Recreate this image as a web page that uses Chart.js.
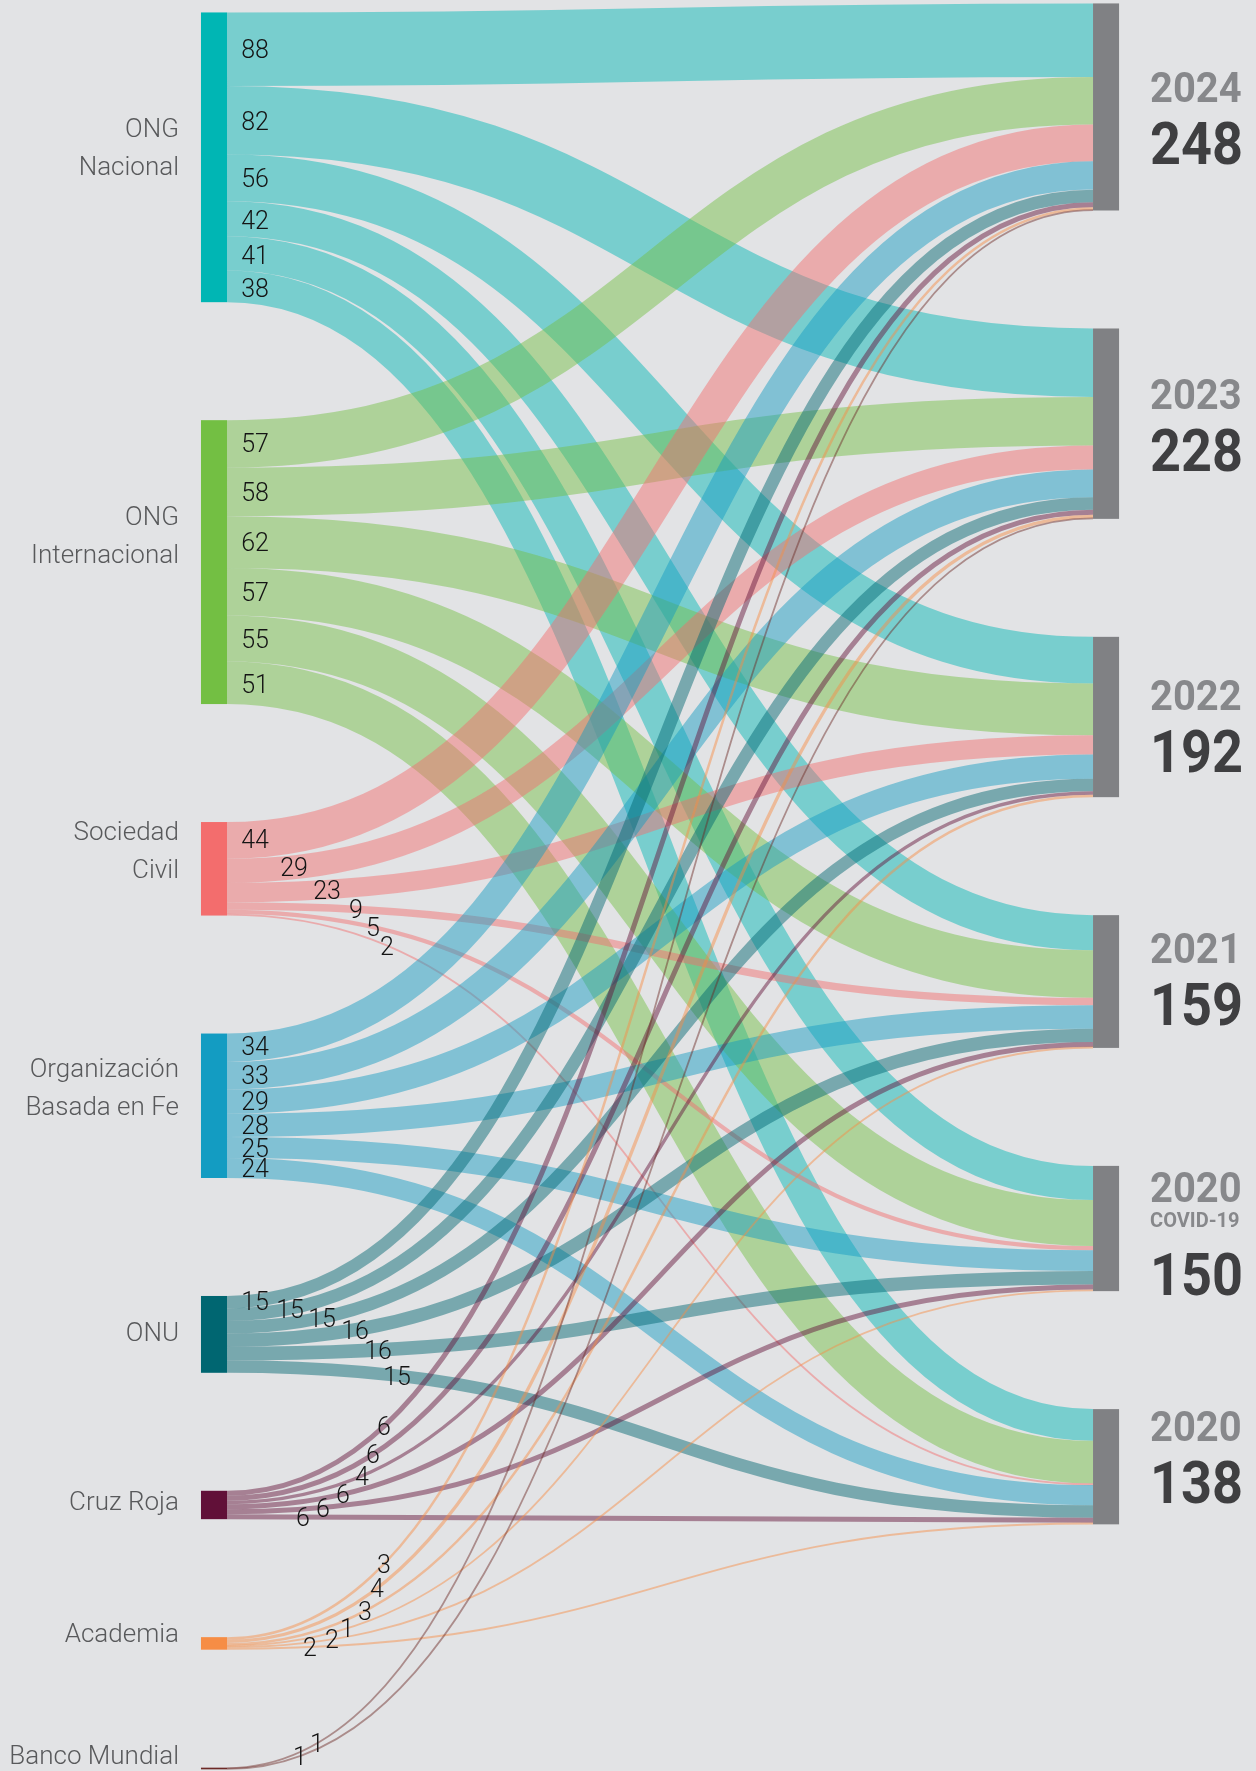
<!DOCTYPE html>
<html lang="es">
<head>
<meta charset="utf-8">
<title>Flujos por tipo de organización</title>
<script src="https://cdn.jsdelivr.net/npm/chart.js@4.4.1/dist/chart.umd.min.js"></script>
<style>
  html, body { margin: 0; padding: 0; background: #e2e3e5; }
  #wrap { width: 1256px; height: 1771px; position: relative; }
</style>
</head>
<body>
<div id="wrap"><canvas id="flujos"></canvas></div>
<script>
  // Nodos de origen (izquierda) y de destino (derecha)
  const fuentes = ['ONG\nNacional', 'ONG\nInternacional', 'Sociedad\nCivil', 'Organización\nBasada en Fe', 'ONU', 'Cruz Roja', 'Academia', 'Banco Mundial'];
  const anios = ['2024', '2023', '2022', '2021', '2020', '2020'];
  const subtitulos = ['', '', '', '', 'COVID-19', ''];

  // Cantidades de cada origen hacia cada año (mismo orden que anios)
  const ongNacional      = [88, 82, 56, 42, 41, 38];
  const ongInternacional = [57, 58, 62, 57, 55, 51];
  const sociedadCivil    = [44, 29, 23, 9, 5, 2];
  const basadaEnFe       = [34, 33, 29, 28, 25, 24];
  const onu              = [15, 15, 15, 16, 16, 15];
  const cruzRoja         = [6, 6, 4, 6, 6, 6];
  const academia         = [3, 4, 3, 1, 2, 2];
  const bancoMundial     = [1, 1, 0, 0, 0, 0];

  const flujos = [ongNacional, ongInternacional, sociedadCivil, basadaEnFe, onu, cruzRoja, academia, bancoMundial];

  // Estilo
  const coloresFuente = ['#00b6b4', '#73bf43', '#f36d6d', '#139cc2', '#006671', '#611038', '#f68d45', '#6c2a27'];
  const colorDestino = '#808184';
  const ALPHA_FLUJO = 0.47;

  // Disposición vertical (en unidades del eje y)
  const Y_MAX = 2121;
  const SEPARACION = 141.3;
  const INICIO_FUENTES = 14.9;
  const INICIO_DESTINOS = 4.1;
  // Columnas: 0 = nodos de origen, 1 = nodos de destino
  const X_MIN = -0.2253, X_MAX = 1.1827, ANCHO_NODO = 0.0292;

  // Distancia (px) desde el nodo a la que va la etiqueta de cada flujo
  const etiquetaDx = [
    [28, 28, 28, 28, 28, 28],
    [28, 28, 28, 28, 28, 28],
    [28, 67, 100, 129, 146, 160],
    [28, 28, 28, 28, 28, 28],
    [28, 63, 95, 128, 151, 170],
    [157, 146, 135, 116, 96, 76],
    [157, 150, 138, 120, 105, 83],
    [90, 73, 0, 0, 0, 0]
  ];
  const nombreDy = [9, -8, 0, 0, -2, -4, -10, 0];
  const anioDy = [-5, -15, -7, -19, -27, -26];

  const totalFuente = flujos.map(f => f.reduce((a, b) => a + b, 0));
  const totalDestino = anios.map((_, j) => flujos.reduce((s, f) => s + f[j], 0));

  function apilar(totales, inicio) {
    const pos = [];
    let y = inicio;
    totales.forEach(t => { pos.push(y); y += t + SEPARACION; });
    return pos;
  }
  const yFuente = apilar(totalFuente, INICIO_FUENTES);
  const yDestino = apilar(totalDestino, INICIO_DESTINOS);

  function rgba(hex, a) {
    const n = parseInt(hex.slice(1), 16);
    return `rgba(${n >> 16},${(n >> 8) & 255},${n & 255},${a})`;
  }

  // recorre la curva: devuelve y para una x dada
  function yEnCurva(x0, x1, y0, y1, x) {
    const u = (x - x0) / (x1 - x0);
    let lo = 0, hi = 1;
    for (let k = 0; k < 40; k++) {
      const t = (lo + hi) / 2;
      const f = 1.5 * t * (1 - t) + t * t * t;
      if (f < u) lo = t; else hi = t;
    }
    const t = (lo + hi) / 2;
    return y0 + (y1 - y0) * (3 * t * t - 2 * t * t * t);
  }

  function enlaces() {
    const lista = [];
    const ocupadoDestino = yDestino.slice();
    flujos.forEach((f, i) => {
      let ys = yFuente[i];
      f.forEach((v, j) => {
        if (!v) return;
        lista.push({ i, j, v, ys, yd: ocupadoDestino[j] });
        ys += v;
        ocupadoDestino[j] += v;
      });
    });
    return lista;
  }

  function textoAngosto(ctx, texto, x, y, escala) {
    ctx.save();
    ctx.translate(x, y);
    ctx.scale(escala, 1);
    ctx.fillText(texto, 0, 0);
    ctx.restore();
  }

  const sankeyPlugin = {
    id: 'sankey',
    beforeDatasetsDraw(chart) {
      const { ctx, scales: { x, y } } = chart;
      const x0 = x.getPixelForValue(ANCHO_NODO);
      const x1 = x.getPixelForValue(1);
      const xm = (x0 + x1) / 2;
      const k = Math.abs(y.getPixelForValue(1) - y.getPixelForValue(0));

      ctx.save();
      ctx.lineCap = 'butt';
      enlaces().forEach(l => {
        const a = y.getPixelForValue(l.ys + l.v / 2);
        const b = y.getPixelForValue(l.yd + l.v / 2);
        ctx.beginPath();
        ctx.moveTo(x0, a);
        ctx.bezierCurveTo(xm, a, xm, b, x1, b);
        ctx.lineWidth = Math.max(l.v * k, 1.8);
        ctx.strokeStyle = rgba(coloresFuente[l.i], ALPHA_FLUJO);
        ctx.stroke();
      });

      // nodos de origen
      const xs = x.getPixelForValue(0);
      fuentes.forEach((_, i) => {
        const t = y.getPixelForValue(yFuente[i]);
        const b = y.getPixelForValue(yFuente[i] + totalFuente[i]);
        ctx.fillStyle = coloresFuente[i];
        ctx.fillRect(xs, t, x0 - xs, Math.max(b - t, 1));
      });
      // nodos de destino
      const xd2 = x.getPixelForValue(1 + ANCHO_NODO);
      anios.forEach((_, j) => {
        const t = y.getPixelForValue(yDestino[j]);
        const b = y.getPixelForValue(yDestino[j] + totalDestino[j]);
        ctx.fillStyle = colorDestino;
        ctx.fillRect(x1, t, xd2 - x1, b - t);
      });
      ctx.restore();
    },
    afterDatasetsDraw(chart) {
      const { ctx, scales: { x, y }, height } = chart;
      const xs = x.getPixelForValue(0);
      const x0 = x.getPixelForValue(ANCHO_NODO);
      const x1 = x.getPixelForValue(1);
      const xd2 = x.getPixelForValue(1 + ANCHO_NODO);

      ctx.save();
      // valores de cada flujo
      ctx.font = '300 25px Roboto';
      ctx.fillStyle = '#141414';
      ctx.textAlign = 'center';
      ctx.textBaseline = 'alphabetic';
      enlaces().forEach(l => {
        const a = y.getPixelForValue(l.ys + l.v / 2);
        const b = y.getPixelForValue(l.yd + l.v / 2);
        const lx = x0 + etiquetaDx[l.i][l.j];
        const ly = yEnCurva(x0, x1, a, b, lx);
        ctx.fillText(String(l.v), lx, ly + 9);
      });

      // nombres de origen
      ctx.font = '300 26px Roboto';
      ctx.fillStyle = '#58595b';
      ctx.textAlign = 'right';
      fuentes.forEach((nombre, i) => {
        const lineas = nombre.split('\n');
        const c = y.getPixelForValue(yFuente[i] + totalFuente[i] / 2);
        let base = Math.min(c + 9 + nombreDy[i], height - 7);
        for (let n = lineas.length - 1; n >= 0; n--) {
          ctx.fillText(lineas[n], xs - 22, base);
          base -= 38;
        }
      });

      // años y totales
      ctx.textAlign = 'left';
      const lx = xd2 + 31;
      anios.forEach((anio, j) => {
        const c = y.getPixelForValue(yDestino[j] + totalDestino[j] / 2);
        const base = c + anioDy[j];
        ctx.font = 'bold 42px Roboto';
        ctx.fillStyle = '#87888b';
        textoAngosto(ctx, anio, lx, base, 0.95);
        let baseTotal = base + 62;
        if (subtitulos[j]) {
          ctx.font = 'bold 20px Roboto';
          ctx.fillText(subtitulos[j], lx, base + 25);
          baseTotal = base + 93;
        }
        ctx.font = 'bold 60px Roboto';
        ctx.fillStyle = '#3f3f41';
        textoAngosto(ctx, String(totalDestino[j]), lx, baseTotal, 0.9);
      });
      ctx.restore();
    }
  };

  new Chart(document.getElementById('flujos'), {
    type: 'scatter',
    data: { datasets: [] },
    options: {
      responsive: true,
      maintainAspectRatio: false,
      devicePixelRatio: 1,
      animation: false,
      events: [],
      layout: { padding: 0 },
      plugins: { legend: { display: false }, tooltip: { enabled: false } },
      scales: {
        x: { type: 'linear', min: X_MIN, max: X_MAX, display: false },
        y: { type: 'linear', min: 0, max: Y_MAX, reverse: true, display: false }
      }
    },
    plugins: [sankeyPlugin]
  });
</script>
</body>
</html>
